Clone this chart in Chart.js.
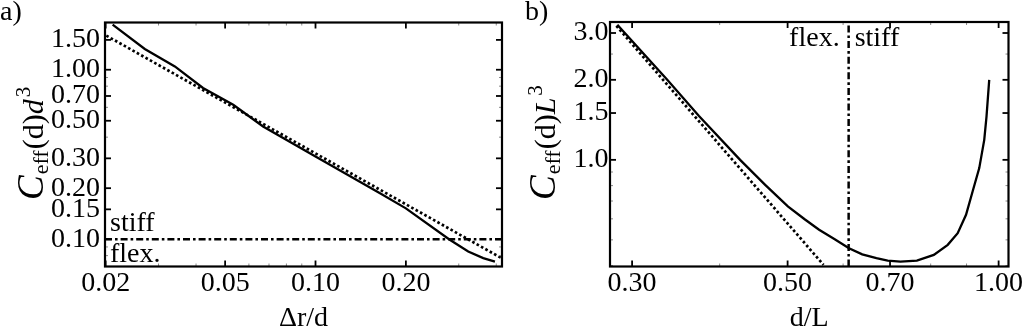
<!DOCTYPE html>
<html>
<head>
<meta charset="utf-8">
<script src="https://cdn.jsdelivr.net/npm/chart.js@4.4.1/dist/chart.umd.min.js"></script>
<style>
  html, body { margin: 0; padding: 0; background: #fff; }
  #wrap { position: relative; width: 1024px; height: 329px; overflow: hidden; }
  canvas { position: absolute; top: 0; }
  #chartA { left: 0; }
  #chartB { left: 512px; }
</style>
</head>
<body>
<div id="wrap">
  <canvas id="chartA" width="512" height="329"></canvas>
  <canvas id="chartB" width="512" height="329"></canvas>
</div>
<script>
// ---- panel a: effective coupling vs. shell thickness ----
const shellRatio   = [0.0211, 0.027, 0.034, 0.0422, 0.0532, 0.0669, 0.100, 0.164, 0.200, 0.280, 0.3226, 0.362, 0.396];
const couplingA    = [1.845, 1.325, 1.046, 0.780, 0.621, 0.4625, 0.3076, 0.187, 0.152, 0.0993, 0.0845, 0.0773, 0.0737];
const asymRatioA   = [0.0201, 0.417];
const asymCouplA   = [1.59, 0.0772];
const limitA       = 0.10;
const xTicksA      = [0.02, 0.05, 0.10, 0.20];
const xLabelsA     = ['0.02', '0.05', '0.10', '0.20'];
const yTicksA      = [0.10, 0.15, 0.20, 0.30, 0.50, 0.70, 1.00, 1.50];
const yLabelsA     = ['0.10', '0.15', '0.20', '0.30', '0.50', '0.70', '1.00', '1.50'];
const xMinorA      = [0.03, 0.04, 0.06, 0.07, 0.08, 0.09, 0.3, 0.4];
const yMinorA      = [0.08, 0.09, 0.4, 0.6, 0.8, 0.9];

// ---- panel b: effective coupling vs. distance ----
const distRatio    = [0.2858, 0.3367, 0.3737, 0.4278, 0.4645, 0.5004, 0.5288, 0.5545, 0.5837, 0.6117, 0.6389, 0.6694, 0.6946, 0.7243, 0.7645, 0.8082, 0.8461, 0.8742, 0.8985, 0.9181, 0.9384, 0.9539, 0.9610, 0.9696];
const couplingB    = [3.22, 2.00, 1.462, 1.00, 0.805, 0.668, 0.5977, 0.5458, 0.5023, 0.4649, 0.441, 0.4268, 0.4175, 0.4144, 0.4179, 0.439, 0.479, 0.530, 0.621, 0.760, 0.931, 1.189, 1.455, 2.00];
const asymRatioB   = [0.2849, 0.5626];
const asymCouplB   = [3.19, 0.4027];
const limitB       = 0.611;
const xTicksB      = [0.30, 0.50, 0.70, 1.00];
const xLabelsB     = ['0.30', '0.50', '0.70', '1.00'];
const yTicksB      = [1.0, 1.5, 2.0, 3.0];
const yLabelsB     = ['1.0', '1.5', '2.0', '3.0'];
const xMinorB      = [0.4, 0.6, 0.8, 0.9];
const yMinorB      = [0.4, 0.5, 0.6, 0.7, 0.8, 0.9, 2.5];

const SERIF = '"Liberation Serif", "Times New Roman", Times, serif';
const pts = (xs, ys) => xs.map((x, i) => ({ x, y: ys[i] }));

// Inward ticks, frame, labels and annotations drawn on top of the plot.
const framePlugin = {
  id: 'frame',
  afterDraw(chart, args, o) {
    const { ctx, chartArea: a } = chart;
    const sx = chart.scales.x, sy = chart.scales.y;
    const seg = (x1, y1, x2, y2) => { ctx.beginPath(); ctx.moveTo(x1, y1); ctx.lineTo(x2, y2); ctx.stroke(); };
    ctx.save();
    // minor ticks
    ctx.strokeStyle = '#8a8a8a'; ctx.lineWidth = 1;
    for (const v of o.minorX) {
      const p = sx.getPixelForValue(v);
      if (p < a.left || p > a.right) continue;
      seg(p, a.bottom, p, a.bottom - 3); seg(p, a.top, p, a.top + 3);
    }
    for (const v of o.minorY) {
      const p = sy.getPixelForValue(v);
      if (p < a.top || p > a.bottom) continue;
      seg(a.left, p, a.left + 3, p); seg(a.right, p, a.right - 3, p);
    }
    // major ticks
    ctx.strokeStyle = '#000'; ctx.lineWidth = 1.8;
    for (const t of sx.ticks) {
      const p = sx.getPixelForValue(t.value);
      seg(p, a.bottom, p, a.bottom - 6); seg(p, a.top, p, a.top + 6);
    }
    for (const t of sy.ticks) {
      const p = sy.getPixelForValue(t.value);
      seg(a.left, p, a.left + 6, p); seg(a.right, p, a.right - 6, p);
    }
    // frame
    ctx.lineWidth = 2.2;
    ctx.strokeRect(a.left, a.top, a.right - a.left, a.bottom - a.top);

    // texts
    ctx.fillStyle = '#000';
    ctx.textBaseline = 'alphabetic';
    ctx.font = '28px ' + SERIF;
    ctx.textAlign = 'left';
    ctx.fillText(o.panel, o.panelX, 20);
    ctx.textAlign = 'center';
    ctx.fillText(o.xTitle, (a.left + a.right) / 2, 326);

    // rotated y title with subscript / superscript
    ctx.save();
    ctx.translate(43, 200);
    ctx.rotate(-Math.PI / 2);
    ctx.textAlign = 'left';
    let cx = 0;
    for (const part of o.yTitle) {
      ctx.font = part.font;
      ctx.fillText(part.t, cx, part.dy || 0);
      cx += ctx.measureText(part.t).width + (part.gap || 0);
    }
    ctx.restore();

    // region annotations
    ctx.font = '28px ' + SERIF;
    for (const n of o.notes) {
      const px = n.atX !== undefined ? sx.getPixelForValue(n.atX) + n.dx : a.left + n.dx;
      const py = n.atY !== undefined ? sy.getPixelForValue(n.atY) + n.dy : a.top + n.dy;
      ctx.textAlign = n.align;
      ctx.fillText(n.t, px, py);
    }
    ctx.restore();
  }
};

function yTitle(last) {
  return [
    { t: 'C', font: 'italic 37px ' + SERIF, gap: 1 },
    { t: 'eff', font: '22px ' + SERIF, dy: 5, gap: 1 },
    { t: '(d)', font: '30px ' + SERIF },
    { t: last, font: 'italic 30px ' + SERIF, gap: 2 },
    { t: '3', font: '21px ' + SERIF, dy: -13 }
  ];
}

function makeChart(id, cfg) {
  const tickFont = { family: SERIF, size: 28 };
  return new Chart(document.getElementById(id), {
    type: 'line',
    data: { datasets: cfg.datasets },
    plugins: [framePlugin],
    options: {
      responsive: false,
      animation: false,
      devicePixelRatio: 1,
      layout: { padding: cfg.padding },
      elements: { point: { radius: 0 }, line: { tension: 0 } },
      plugins: {
        legend: { display: false },
        tooltip: { enabled: false },
        frame: cfg.frame
      },
      scales: {
        x: {
          type: 'logarithmic', min: cfg.xMin, max: cfg.xMax,
          grid: { display: false, drawTicks: false },
          border: { display: false },
          afterFit: s => { s.height = cfg.xHeight; },
          afterBuildTicks: s => { s.ticks = cfg.xTicks.map(v => ({ value: v })); },
          ticks: {
            autoSkip: false, maxRotation: 0, padding: cfg.xPad, color: '#000', font: tickFont,
            callback: (v, i) => cfg.xLabels[i]
          }
        },
        y: {
          type: 'logarithmic', min: cfg.yMin, max: cfg.yMax,
          grid: { display: false, drawTicks: false },
          border: { display: false },
          afterFit: s => { s.width = cfg.yWidth; },
          afterBuildTicks: s => { s.ticks = cfg.yTicks.map(v => ({ value: v })); },
          ticks: {
            autoSkip: false, padding: cfg.yPad, color: '#000', font: tickFont,
            callback: (v, i) => cfg.yLabels[i]
          }
        }
      }
    }
  });
}

const DOTTED = [2.6, 2.4];
const DASHDOT = [7, 3, 2.6, 3];

function build() {
  const xMinA = 0.0199, xMaxA = 0.418, yMinA = 0.069, yMaxA = 1.9;
  makeChart('chartA', {
    padding: { top: 22.5, right: 10, left: 0, bottom: 0 },
    xMin: xMinA, xMax: xMaxA, yMin: yMinA, yMax: yMaxA,
    xHeight: 62.5, yWidth: 105, xPad: 0, yPad: 5,
    xTicks: xTicksA, xLabels: xLabelsA, yTicks: yTicksA, yLabels: yLabelsA,
    datasets: [
      { data: pts(shellRatio, couplingA), borderColor: '#000', borderWidth: 2.3, fill: false },
      { data: pts(asymRatioA, asymCouplA), borderColor: '#000', borderWidth: 2.7, borderDash: DOTTED, fill: false },
      { data: [{ x: xMinA, y: limitA }, { x: xMaxA, y: limitA }], borderColor: '#000', borderWidth: 2.5, borderDash: DASHDOT, fill: false }
    ],
    frame: {
      panel: 'a)', panelX: 0, xTitle: 'Δr/d', yTitle: yTitle('d'),
      minorX: xMinorA, minorY: yMinorA,
      notes: [
        { t: 'stiff', dx: 5, atY: limitA, dy: -8, align: 'left' },
        { t: 'flex.', dx: 5, atY: limitA, dy: 23, align: 'left' }
      ]
    }
  });

  const xMinB = 0.279, xMaxB = 1.033, yMinB = 0.397, yMaxB = 3.30;
  makeChart('chartB', {
    padding: { top: 22, right: 15.5, left: 0, bottom: 0 },
    xMin: xMinB, xMax: xMaxB, yMin: yMinB, yMax: yMaxB,
    xHeight: 62.5, yWidth: 98, xPad: 0, yPad: 1.5,
    xTicks: xTicksB, xLabels: xLabelsB, yTicks: yTicksB, yLabels: yLabelsB,
    datasets: [
      { data: pts(distRatio, couplingB), borderColor: '#000', borderWidth: 2.3, fill: false },
      { data: pts(asymRatioB, asymCouplB), borderColor: '#000', borderWidth: 2.7, borderDash: DOTTED, fill: false },
      { data: [{ x: limitB, y: yMinB }, { x: limitB, y: yMaxB }], borderColor: '#000', borderWidth: 2.5, borderDash: DASHDOT, fill: false }
    ],
    frame: {
      panel: 'b)', panelX: 13, xTitle: 'd/L', yTitle: yTitle('L'),
      minorX: xMinorB, minorY: yMinorB,
      notes: [
        { t: 'flex.', atX: limitB, dx: -9, dy: 24, align: 'right' },
        { t: 'stiff', atX: limitB, dx: 6, dy: 24, align: 'left' }
      ]
    }
  });
}

Promise.all([
  document.fonts.load('28px "Liberation Serif"'),
  document.fonts.load('italic 28px "Liberation Serif"')
]).then(build, build);
</script>
</body>
</html>
